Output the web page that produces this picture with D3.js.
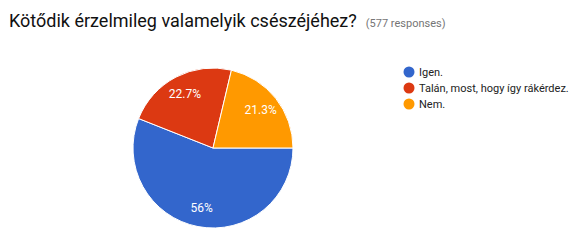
<!DOCTYPE html>
<html>
<head>
<meta charset="utf-8">
<script src="https://cdn.jsdelivr.net/npm/d3@7"></script>
<style>
  body { margin: 0; background: #fff; }
  svg { font-family: Roboto, Arial, sans-serif; display: block; }
</style>
</head>
<body>
<svg width="580" height="243"></svg>
<script>
const categories = ['Igen.', 'Talán, most, hogy így rákérdez.', 'Nem.'];
const values = [56, 22.7, 21.3];
const labels = ['56%', '22.7%', '21.3%'];
const colors = ['#3366cc', '#dc3912', '#ff9900'];

const svg = d3.select('svg');
const width = +svg.attr('width');
const height = +svg.attr('height');

const data = categories.map((c, i) => ({ name: c, value: values[i], label: labels[i], color: colors[i] }));

// title
const title = svg.append('text')
  .attr('x', 9)
  .attr('y', 27)
  .attr('font-size', 18)
  .attr('fill', '#111');
title.append('tspan').text('Kötődik érzelmileg valamelyik csészéjéhez?');
title.append('tspan')
  .attr('dx', 9)
  .attr('font-size', 11)
  .attr('fill', '#757575')
  .text('(577 responses)');

// pie
const cx = 213, cy = 148, radius = 80;
const pie = d3.pie()
  .sort(null)
  .value(d => d.value)
  .startAngle(Math.PI / 2)
  .endAngle(Math.PI / 2 + 2 * Math.PI);
const arc = d3.arc().innerRadius(0).outerRadius(radius);
const labelArc = d3.arc().innerRadius(radius * 0.76).outerRadius(radius * 0.76);

const g = svg.append('g').attr('transform', `translate(${cx}, ${cy})`);
const arcs = pie(data);

g.selectAll('path').data(arcs)
  .enter().append('path')
    .attr('d', arc)
    .attr('fill', d => d.data.color)
    .attr('stroke', '#fff')
    .attr('stroke-width', 1);

g.selectAll('text').data(arcs)
  .enter().append('text')
    .attr('transform', d => `translate(${labelArc.centroid(d)})`)
    .attr('text-anchor', 'middle')
    .attr('dy', '0.35em')
    .attr('font-size', 12)
    .attr('fill', '#fff')
    .text(d => d.data.label);

// legend
const legend = svg.append('g').attr('transform', 'translate(409, 72)');
const items = legend.selectAll('g').data(data)
  .enter().append('g')
    .attr('transform', (d, i) => `translate(0, ${i * 16})`);
items.append('circle')
  .attr('r', 5.5)
  .attr('fill', d => d.color);
items.append('text')
  .attr('x', 10)
  .attr('dy', '0.35em')
  .attr('font-size', 11)
  .attr('fill', '#222')
  .text(d => d.name);
</script>
</body>
</html>
